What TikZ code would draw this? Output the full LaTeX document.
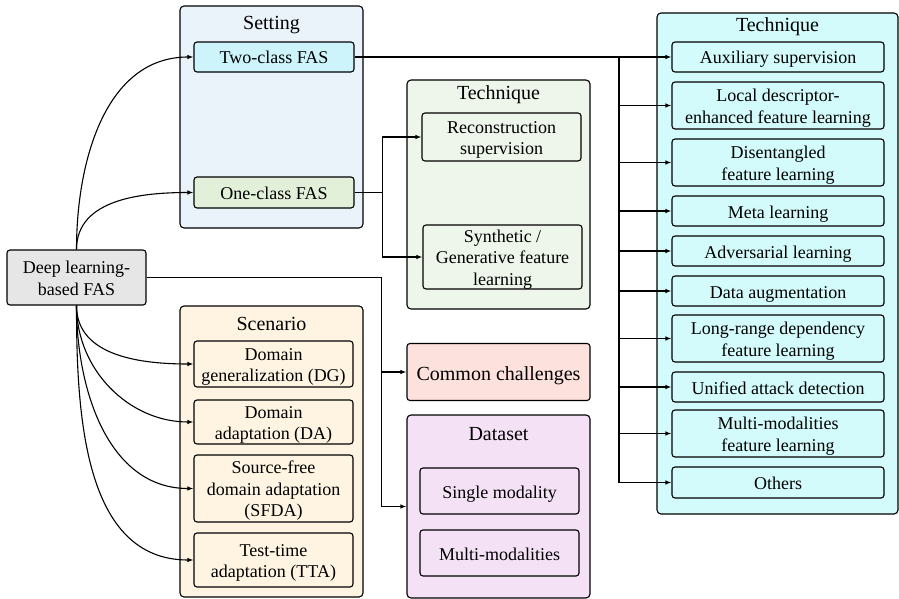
\documentclass[tikz,border=0pt]{standalone}
\usepackage{fontspec}
\setmainfont{Liberation Serif}
\usetikzlibrary{arrows.meta}
\definecolor{rootgray}{HTML}{E6E6E6}
\definecolor{setblue}{HTML}{EAF2FA}
\definecolor{twocyan}{HTML}{CCF4FA}
\definecolor{onegreen}{HTML}{E2EFD9}
\definecolor{techgreen}{HTML}{EEF5EA}
\definecolor{chalred}{HTML}{FDE1DD}
\definecolor{datapink}{HTML}{F4E1F5}
\definecolor{scenyellow}{HTML}{FEF4E1}
\definecolor{techcyan}{HTML}{D3FBFB}

\tikzset{
  grp/.style={draw,rounded corners=4pt,line width=1.1pt,inner sep=0pt},
  itm/.style={draw,rounded corners=3pt,line width=1.1pt,inner sep=0pt,align=center,
    text height=18pt,text depth=4pt,font=\fontsize{18}{21.5}\selectfont},
  dbl/.style={text height=39.5pt},
  trp/.style={text height=60pt},
  ttl/.style={inner sep=0pt,text height=14pt,text depth=4pt,font=\fontsize{20}{24}\selectfont},
  arr/.style={-{Latex[length=6pt,width=4.5pt]},line width=1.1pt},
}

\begin{document}
\begin{tikzpicture}[x=1pt,y=-1pt]
\useasboundingbox (0,0) rectangle (899,599);
% ---- root ----
\node[itm,dbl,fill=rootgray,minimum width=139pt,minimum height=55pt] (root) at (76.5,277.5)
  {Deep learning-\\based FAS};
% ---- setting ----
\node[grp,fill=setblue,minimum width=183pt,minimum height=222pt] (setg) at (271.5,117) {};
\node[ttl] (setgT) at (271.5,24.3) {Setting};
\node[itm,fill=twocyan,minimum width=160pt,minimum height=30pt] (two) at (274,57) {Two-class FAS};
\node[itm,fill=onegreen,minimum width=160pt,minimum height=31pt] (one) at (274,192.5) {One-class FAS};
% ---- one-class technique ----
\node[grp,fill=techgreen,minimum width=183pt,minimum height=229pt] (tecA) at (498.5,194.5) {};
\node[ttl] (tecAT) at (498.5,95) {Technique};
\node[itm,dbl,fill=techgreen,minimum width=159pt,minimum height=48pt] (recon) at (501.5,137)
  {Reconstruction\\supervision};
\node[itm,trp,fill=techgreen,minimum width=159pt,minimum height=64pt] (synth) at (502.5,257)
  {Synthetic /\\Generative feature\\learning};
% ---- challenges and dataset ----
\node[itm,fill=chalred,minimum width=183pt,minimum height=57pt,text height=20pt,
  font=\fontsize{20}{24}\selectfont] (chal) at (498.5,372) {Common challenges};
\node[grp,fill=datapink,minimum width=183pt,minimum height=183pt] (data) at (498.5,506.5) {};
\node[ttl] (dataT) at (498.5,435.7) {Dataset};
\node[itm,fill=datapink,minimum width=159pt,minimum height=46pt] (single) at (499.5,491) {Single modality};
\node[itm,fill=datapink,minimum width=159pt,minimum height=46pt] (multi) at (499.5,553) {Multi-modalities};
% ---- scenario ----
\node[grp,fill=scenyellow,minimum width=183pt,minimum height=291pt] (scen) at (271.5,451.5) {};
\node[ttl] (scenT) at (271.5,325) {Scenario};
\node[itm,dbl,fill=scenyellow,minimum width=159pt,minimum height=46pt] (dg) at (273.5,364)
  {Domain\\generalization (DG)};
\node[itm,dbl,fill=scenyellow,minimum width=159pt,minimum height=44pt] (da) at (273.5,422)
  {Domain\\adaptation (DA)};
\node[itm,trp,fill=scenyellow,minimum width=159pt,minimum height=67pt] (sfda) at (273.5,488.5)
  {Source-free\\domain adaptation\\(SFDA)};
\node[itm,dbl,fill=scenyellow,minimum width=159pt,minimum height=54pt] (tta) at (273.5,560)
  {Test-time\\adaptation (TTA)};
% ---- two-class technique ----
\node[grp,fill=techcyan,minimum width=241pt,minimum height=501pt] (tecB) at (777.5,263.5) {};
\node[ttl] (tecBT) at (777.5,27) {Technique};
\foreach \n/\y/\h/\th/\t in {
    aux/57/30/18/{Auxiliary supervision},
    loc/105.5/47/39.5/{Local descriptor-\\enhanced feature learning},
    dis/162.5/47/39.5/{Disentangled\\feature learning},
    meta/211/30/18/{Meta learning},
    adv/251/30/18/{Adversarial learning},
    aug/291/30/18/{Data augmentation},
    long/338.5/47/39.5/{Long-range dependency\\feature learning},
    uni/387/30/18/{Unified attack detection},
    mm/433.5/47/39.5/{Multi-modalities\\feature learning},
    oth/482.5/31/18/{Others}}{
  \node[itm,fill=techcyan,minimum width=212pt,minimum height=\h pt,text height=\th pt]
    (\n) at (778,\y) {\t};
}
% ---- connectors ----
\coordinate (tr) at (619,57);
\draw[arr] (two.east) -- (aux.west);
\draw[arr] (tr) |- (oth.west);
\foreach \n in {loc,dis,meta,adv,aug,long,uni,mm}{
  \draw[arr] (tr |- \n.west) -- (\n.west);
}
\draw[arr] (one.east) -- ++(28,0) |- (recon.west);
\draw[arr] (one.east) -- ++(28,0) |- (synth.west);
\draw[arr] (root.east) -| ([xshift=-25pt]data.west) -- (data.west);
\draw[arr] ([xshift=-25pt]chal.west) -- (chal.west);
\draw[arr] (root.north) to[out=90,in=180] (two.west);
\draw[arr] (root.north) to[out=90,in=180] (one.west);
\foreach \n in {dg,da,sfda,tta}{
  \draw[arr] (root.south) to[out=-90,in=180] (\n.west);
}
\end{tikzpicture}
\end{document}
